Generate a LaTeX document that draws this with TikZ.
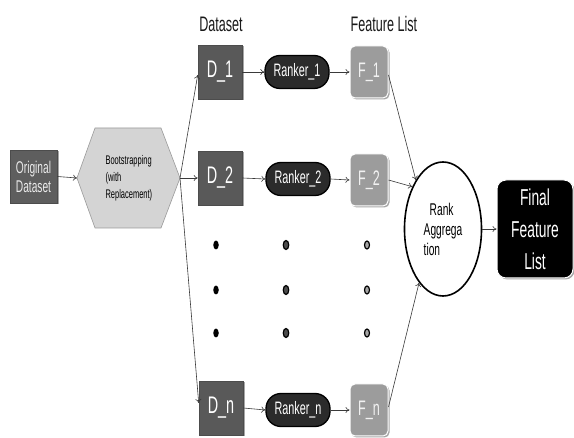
\documentclass[tikz,border=0pt]{standalone}
\usepackage{fontspec}
\setmainfont{Liberation Sans}[FakeStretch=0.6]
\usetikzlibrary{shapes.geometric,shadows,arrows.meta}

\definecolor{origfill}{HTML}{5E5E5E}
\definecolor{dsfill}{HTML}{595959}
\definecolor{rkfill}{HTML}{2B2B2B}
\definecolor{flfill}{HTML}{9C9C9C}
\definecolor{hexfill}{HTML}{D4D4D4}
\definecolor{hexline}{HTML}{9A9A9A}
\definecolor{arrowcol}{HTML}{3A3A3A}

\newcommand\fsz[2]{\fontsize{#1}{#2}\selectfont}

\tikzset{
  softshadow/.style={drop shadow={shadow xshift=1.5pt,shadow yshift=-1.5pt,opacity=0.35,fill=black}},
  origbox/.style={rectangle,fill=origfill,draw=black!70,line width=0.6pt,
    minimum width=47pt,minimum height=53pt,inner sep=0pt,align=center,
    text=white!92!black,softshadow,font=\fsz{17}{19}},
  dsbox/.style={rectangle,fill=dsfill,draw=black!70,line width=0.6pt,
    minimum width=44pt,minimum height=54pt,inner sep=0pt,
    text=white,softshadow,font=\fsz{24}{24}},
  rkbox/.style={rectangle,rounded corners=15pt,fill=rkfill,draw=black,line width=1.3pt,
    minimum width=64pt,minimum height=33pt,inner sep=0pt,
    text=white,font=\fsz{18}{18}},
  flbox/.style={rectangle,rounded corners=5pt,fill=flfill,draw=white,line width=1pt,
    minimum width=38pt,minimum height=52pt,inner sep=0pt,
    text=white!95!black,softshadow,font=\fsz{21}{21}},
  aggnode/.style={ellipse,draw=black,line width=1.6pt,fill=white,
    minimum width=77pt,minimum height=134pt,inner sep=0pt,align=left,font=\fsz{17}{20}},
  finalbox/.style={rectangle,rounded corners=9pt,fill=black,draw=white,line width=1pt,
    minimum width=76pt,minimum height=98pt,inner sep=0pt,align=center,
    text=white,softshadow,font=\fsz{23}{32}},
  hexshape/.style={fill=hexfill,draw=hexline,line width=0.6pt},
  title/.style={font=\fsz{21}{21},text=black!90},
  link/.style={draw=arrowcol,line width=0.6pt,-{To[length=4pt,width=6pt]}},
  dotA/.style={ellipse,fill=black,minimum width=5.5pt,minimum height=9pt,inner sep=0pt},
  dotB/.style={ellipse,fill=black!70,draw=black,line width=1.2pt,minimum width=5.5pt,minimum height=9pt,inner sep=0pt},
  dotC/.style={ellipse,fill=black!35,draw=black,line width=1.2pt,minimum width=5pt,minimum height=8pt,inner sep=0pt},
}

\begin{document}
\begin{tikzpicture}[x=1pt,y=-1pt]
\useasboundingbox[fill=white] (0,0) rectangle (574,438);

% column titles
\node[title] (ttlD) at (221,24) {Dataset};
\node[title] (ttlF) at (384,24) {Feature List};

% input and resampling step
\node[origbox] (orig) at (33.5,176.5) {Original\\Dataset};
\coordinate (hexL) at (77,178);
\coordinate (hexR) at (180,178);
\draw[hexshape] (hexL) -- (95,128) -- (161,128) -- (hexR) -- (161,228) -- (95,228) -- cycle;
\node[anchor=west,align=left,font=\fsz{12.5}{17}] (boot) at (102,178) {Bootstrapping\\(with\\Replacement)};

% bootstrap samples
\node[dsbox] (d1) at (220,72) {D\_1};
\node[dsbox] (d2) at (220,178) {D\_2};
\node[dsbox] (dn) at (221,408) {D\_n};

% rankers
\node[rkbox] (r1) at (297,72) {Ranker\_1};
\node[rkbox] (r2) at (298,179) {Ranker\_2};
\node[rkbox] (rn) at (298,410) {Ranker\_n};

% per-sample feature lists
\node[flbox] (f1) at (369,72) {F\_1};
\node[flbox] (f2) at (369,180) {F\_2};
\node[flbox] (fn) at (369,410) {F\_n};

% ellipsis dots
\foreach \y [count=\i] in {245,290,333} {
  \node[dotA] (dA\i) at (216,\y) {};
  \node[dotB] (dB\i) at (286,\y) {};
  \node[dotC] (dC\i) at (367,\y) {};
}

% aggregation and result
\node[aggnode] (agg) at (443,229) {\hspace*{6pt}Rank\\Aggrega\\tion};
\node[finalbox] (final) at (535,229) {Final\\Feature\\List};

% connectors
\draw[link] (orig.east) -- (hexL);
\draw[link] (hexR) -- ([yshift=-3pt]d1.west);
\draw[link] (hexR) -- (d2.west);
\draw[link] (hexR) -- ([yshift=5pt]dn.west);
\draw[link] (d1.east) -- (r1.west);
\draw[link] (d2.east) -- (r2.west);
\draw[link] (dn.east) -- (rn.west);
\draw[link] (r1.east) -- (f1.west);
\draw[link] (r2.east) -- (f2.west);
\draw[link] (rn.east) -- (fn.west);
\draw[link] ([yshift=-3pt]f1.east) -- (agg.119);
\draw[link] (f2.east) -- (agg.126);
\draw[link] ([yshift=3pt]fn.east) -- (agg.246);
\draw[link] (agg.east) -- (final.west);
\end{tikzpicture}
\end{document}
